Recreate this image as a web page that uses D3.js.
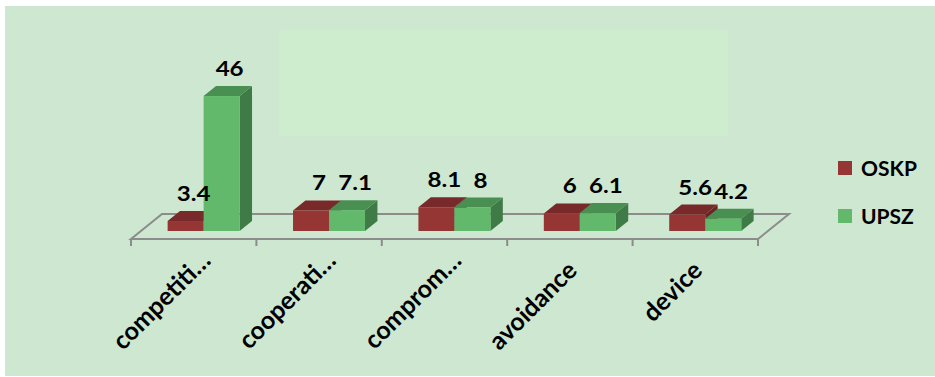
<!DOCTYPE html>
<html><head><meta charset="utf-8">
<script src="https://cdn.jsdelivr.net/npm/d3@7"></script>
<style>
html,body{margin:0;padding:0;background:#fff;}
svg{display:block;}
text{font-family:Lato,"Open Sans",sans-serif;font-weight:bold;fill:#000;}
</style></head>
<body><svg id="c" width="935" height="377"></svg>
<script>
const categories = ["competiti…", "cooperati…", "comprom…", "avoidance", "device"];
const seriesNames = ["OSKP", "UPSZ"];
const oskpValues = [3.4, 7, 8.1, 6, 5.6];
const upszValues = [46, 7.1, 8, 6.1, 4.2];
const seriesValues = [oskpValues, upszValues];

const frontColors = ["#953634", "#62b96b"];
const topColors = ["#772a29", "#4a8f52"];
const sideColors = ["#6a2422", "#3f7b46"];

const svg = d3.select("#c");
const W = 935, H = 377;

// background
svg.append("rect").attr("x", 5).attr("y", 6).attr("width", W - 5).attr("height", H - 7).attr("fill", "#cde7d0");
svg.append("rect").attr("x", 279).attr("y", 30).attr("width", 449).attr("height", 106).attr("fill", "#ceecce");

// 3D geometry
const floorY = 239;
const depth = {dx: 31, dy: -25};
const barFront = 0.32, barDepth = 0.40;
const x = d3.scaleBand().domain(categories).range([131, 758]);
const xs = d3.scaleBand().domain(seriesNames).range([-36, 36]);
const baseY = floorY + depth.dy * barFront;
const y = d3.scaleLinear().domain([0, 50]).range([baseY, baseY - 146.7]);
const offX = depth.dx * barFront;
const sdx = depth.dx * barDepth, sdy = depth.dy * barDepth;

const g = svg.append("g");
// floor
const floorPts = [[131, floorY], [758, floorY], [758 + depth.dx, floorY + depth.dy], [131 + depth.dx, floorY + depth.dy]];
g.append("path").attr("d", d3.line()(floorPts) + "Z").attr("fill", "none").attr("stroke", "#8c8c8c").attr("stroke-width", 2);

// bars
categories.forEach((c, i) => {
  seriesNames.forEach((s, j) => {
    const v = seriesValues[j][i];
    const x0 = x(c) + x.bandwidth() / 2 + offX + xs(s);
    const w = xs.bandwidth();
    const yt = y(v), yb = y(0);
    const bg = g.append("g");
    bg.append("path").attr("d", d3.line()([[x0 + w, yt], [x0 + w + sdx, yt + sdy], [x0 + w + sdx, yb + sdy], [x0 + w, yb]]) + "Z").attr("fill", sideColors[j]);
    bg.append("path").attr("d", d3.line()([[x0, yt], [x0 + sdx, yt + sdy], [x0 + w + sdx, yt + sdy], [x0 + w, yt]]) + "Z").attr("fill", topColors[j]);
    bg.append("rect").attr("x", x0).attr("y", yt).attr("width", w).attr("height", yb - yt).attr("fill", frontColors[j]);
  });
});

// front floor line + ticks
g.append("line").attr("x1", 131).attr("x2", 758).attr("y1", floorY).attr("y2", floorY).attr("stroke", "#8c8c8c").attr("stroke-width", 2);
const tickXs = categories.map(c => x(c)).concat([x.range()[1]]);
g.selectAll(".tick").data(tickXs).enter().append("line")
  .attr("x1", d => d).attr("x2", d => d).attr("y1", floorY).attr("y2", floorY + 7)
  .attr("stroke", "#8c8c8c").attr("stroke-width", 2);

// data labels
categories.forEach((c, i) => {
  seriesNames.forEach((s, j) => {
    const v = seriesValues[j][i];
    const cx = x(c) + x.bandwidth() / 2 + offX + xs(s) + xs.bandwidth() / 2 + 8;
    svg.append("text")
      .attr("transform", `translate(${cx},${y(v) - 20}) scale(1.15,1)`)
      .attr("text-anchor", "middle").attr("font-size", 21).text(d3.format("")(v));
  });
});

// category labels
categories.forEach((c) => {
  const cx = x(c) + x.bandwidth() / 2 + 8.5;
  const trunc = c.endsWith("…");
  svg.append("text")
    .attr("transform", `translate(${cx},272) rotate(-45)`)
    .attr("dx", trunc ? 14 : 0)
    .attr("text-anchor", "end").attr("font-size", 25).text(c);
});

// legend
const leg = svg.append("g");
seriesNames.forEach((s, j) => {
  const ly = 161 + j * 48;
  leg.append("rect").attr("x", 838).attr("y", ly).attr("width", 14).attr("height", 14).attr("fill", frontColors[j]);
  leg.append("text").attr("x", 861).attr("y", ly + 15).attr("font-size", 21).text(s);
});
</script></body></html>
